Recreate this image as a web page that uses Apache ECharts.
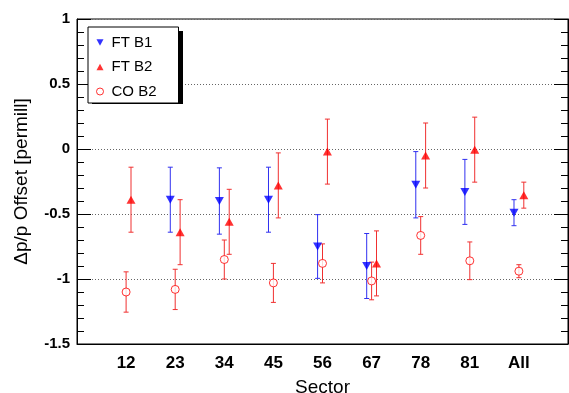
<!DOCTYPE html>
<html><head><meta charset="utf-8">
<script src="https://cdn.jsdelivr.net/npm/echarts@6/dist/echarts.min.js"></script>
<style>html,body{margin:0;padding:0;background:#fff}#c{width:569px;height:393px}</style>
</head><body><div id="c"></div>
<script>
const sectors = ['12','23','34','45','56','67','78','81','All'];
const ftB1 = [null, -0.39, -0.40, -0.39, -0.75, -0.90, -0.275, -0.33, -0.49];
const ftB1Err = [null, 0.25, 0.255, 0.25, 0.245, 0.25, 0.255, 0.25, 0.10];
const ftB2 = [-0.39, -0.64, -0.56, -0.28, -0.02, -0.88, -0.05, -0.005, -0.355];
const ftB2Err = [0.25, 0.25, 0.25, 0.25, 0.25, 0.25, 0.25, 0.25, 0.10];
const coB2 = [-1.10, -1.08, -0.85, -1.03, -0.88, -1.015, -0.665, -0.86, -0.94];
const coB2Err = [0.155, 0.155, 0.15, 0.15, 0.15, 0.145, 0.145, 0.145, 0.05];
const yTicks = [1, 0.5, 0, -0.5, -1, -1.5];

const FONT = '"Liberation Sans", Arial, sans-serif';
const BLUE = '#0000ff', RED = '#ff0000';
const DOWN = 'path://M0,0L10,0L5,9Z';
const UP = 'path://M5,0L10,9L0,9Z';

function pts(vals, off){ return vals.map((v,i)=> v==null?null:[i+1+off, v]).filter(p=>p); }
function errs(vals, e, off){ return vals.map((v,i)=> v==null?null:[i+1+off, v-e[i], v+e[i]]).filter(p=>p); }
function errSeries(data, color){
  return {type:'custom', silent:true, z:2, data:data,
    renderItem:function(params, api){
      const lo = api.coord([api.value(0), api.value(1)]);
      const hi = api.coord([api.value(0), api.value(2)]);
      const st = {stroke:color, lineWidth:1};
      return {type:'group', children:[
        {type:'line', shape:{x1:lo[0],y1:lo[1],x2:hi[0],y2:hi[1]}, style:st},
        {type:'line', shape:{x1:lo[0]-2.5,y1:lo[1],x2:lo[0]+2.5,y2:lo[1]}, style:st},
        {type:'line', shape:{x1:hi[0]-2.5,y1:hi[1],x2:hi[0]+2.5,y2:hi[1]}, style:st}
      ]};
    }};
}

const chart = echarts.init(document.getElementById('c'), null, {renderer:'canvas'});
chart.setOption({
  animation:false,
  textStyle:{fontFamily:FONT},
  grid:{left:77, top:19, right:1, bottom:49, outerBoundsMode:'none', containLabel:false,
    show:true, borderColor:'#000', borderWidth:1, backgroundColor:'transparent'},
  graphic:[{type:'rect', left:92, top:31, shape:{width:91, height:73}, style:{fill:'#000'}, z:50, zlevel:0}],
  legend:{
    orient:'vertical', left:88, top:27, z:60,
    data:[{name:'FT B1', icon:DOWN},{name:'FT B2', icon:UP},
          {name:'CO B2', icon:'circle', itemStyle:{color:'#fff', borderColor:RED, borderWidth:1}}],
    itemWidth:7, itemHeight:7, itemGap:9.5,
    padding:[8,22,4,8],
    backgroundColor:'#fff', borderColor:'#000', borderWidth:1,
    textStyle:{fontSize:15, color:'#000', fontFamily:FONT, padding:[0,0,0,3]}
  },
  xAxis:{type:'value', min:0, max:10, interval:1,
    name:'Sector', nameLocation:'middle', nameGap:34,
    nameTextStyle:{fontSize:19, color:'#000', fontFamily:FONT},
    axisLine:{show:true, onZero:false, lineStyle:{color:'#000'}}, axisTick:{show:false}, splitLine:{show:false},
    axisLabel:{margin:11, fontSize:17, fontWeight:'bold', color:'#000', fontFamily:FONT,
      formatter:function(v){ return (v>=1 && v<=sectors.length) ? sectors[v-1] : ''; }}
  },
  yAxis:[{type:'value', min:-1.5, max:1, interval:0.5, position:'left',
    name:'Δp/p Offset [permill]', nameLocation:'middle', nameGap:46,
    nameTextStyle:{fontSize:19, color:'#000', fontFamily:FONT},
    axisLine:{show:true, onZero:false, lineStyle:{color:'#000'}},
    axisTick:{show:true, inside:true, length:14, lineStyle:{color:'#000'}},
    minorTick:{show:true, splitNumber:5, length:7, lineStyle:{color:'#000'}},
    splitLine:{show:true, lineStyle:{color:'#666', type:[1,2], width:1}},
    axisLabel:{margin:7, fontSize:15, fontWeight:'bold', color:'#000', fontFamily:FONT,
      customValues:yTicks, formatter:function(v){ return String(v); }}
  },{type:'value', min:-1.5, max:1, interval:0.5, position:'right',
    axisLine:{show:true, onZero:false, lineStyle:{color:'#000'}},
    axisTick:{show:true, inside:true, length:14, lineStyle:{color:'#000'}},
    minorTick:{show:true, splitNumber:5, length:7, lineStyle:{color:'#000'}},
    splitLine:{show:false}, axisLabel:{show:false}
  }],
  series:[
    errSeries(errs(ftB1, ftB1Err, -0.1), '#3030f0'),
    errSeries(errs(ftB2, ftB2Err, 0.1), '#f03030'),
    errSeries(errs(coB2, coB2Err, 0), '#f03030'),
    {name:'FT B1', type:'scatter', z:3, symbol:DOWN, symbolSize:[9,8], itemStyle:{color:BLUE}, data:pts(ftB1,-0.1)},
    {name:'FT B2', type:'scatter', z:3, symbol:UP, symbolSize:[9,8], itemStyle:{color:RED}, data:pts(ftB2,0.1)},
    {name:'CO B2', type:'scatter', z:3, symbol:'circle', symbolSize:8, itemStyle:{color:'#fff', borderColor:RED, borderWidth:1}, data:pts(coB2,0)}
  ]
});
</script></body></html>
